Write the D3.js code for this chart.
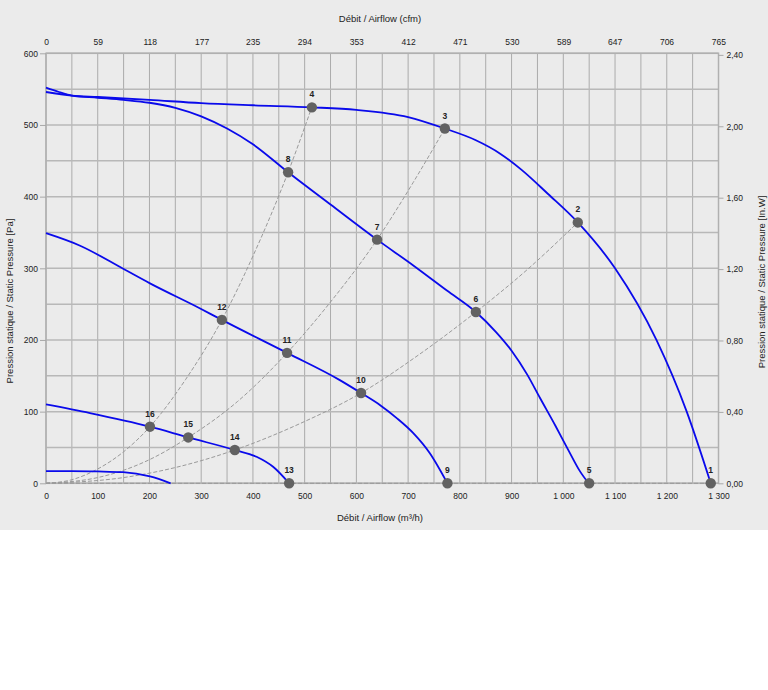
<!DOCTYPE html>
<html>
<head>
<meta charset="utf-8">
<script src="https://cdn.jsdelivr.net/npm/d3@7"></script>
<style>
	body { margin: 0; background: #fff; }
	text { font-family: "Liberation Sans", Arial, sans-serif; fill: #222; }
</style>
</head>
<body>
<script>
// axis ticks
let flowTicks = [0, 100, 200, 300, 400, 500, 600, 700, 800, 900, 1000, 1100, 1200, 1300];
let cfmTicks = [0, 59, 118, 177, 235, 294, 353, 412, 471, 530, 589, 647, 706, 765];
let paTicks = [0, 100, 200, 300, 400, 500, 600];
let inwgTicks = [0, 0.4, 0.8, 1.2, 1.6, 2.0, 2.4];

// fan curves [m3/h, Pa]
let fanCurve1 = [[0, 546], [50, 541], [100, 539], [200, 535], [300, 530.5], [400, 527.5], [514, 524.6], [600, 521], [700, 511], [771, 495], [830, 479], [878, 460], [920, 437], [970, 404], [1028, 364], [1100, 300], [1180, 200], [1238, 101], [1285, 0]];
let fanCurve2 = [[0, 552], [25, 546], [50, 541], [100, 538], [150, 535], [200, 531], [250, 524], [300, 512], [350, 495], [400, 473], [468, 434], [550, 389], [640, 340], [710, 304], [775, 269], [831, 239], [870, 211], [900, 185], [930, 152], [955, 119], [985, 80], [1010, 46], [1032, 17], [1049, 0]];
let fanCurve3 = [[0, 349], [66, 331.5], [150, 299], [201, 279], [298, 244], [340, 228], [466, 182], [568, 144], [609, 126], [646, 109], [678, 91], [710, 70], [742, 42], [776, 0]];
let fanCurve4 = [[0, 110], [85, 98], [201, 79], [275, 64], [365, 46.5], [407, 37], [439, 23], [470, 0]];
let fanCurve5 = [[0, 17], [50, 17], [100, 16.5], [149, 15.5], [201, 9.5], [241, 0]];

// system curves (dashed)
let sysCurve1 = [[0, 0], [50, 5], [100, 20], [150, 44], [201, 79], [270, 145], [340, 228], [400, 317], [468, 434], [514, 525]];
let sysCurve2 = [[0, 0], [100, 8], [200, 33], [275, 64], [370, 114], [466, 182], [550, 253], [640, 340], [710, 420], [771, 495]];
let sysCurve3 = [[0, 0], [150, 8], [250, 22], [365, 46.5], [490, 83], [609, 126], [720, 179], [831, 239], [930, 298], [1028, 364]];
let sysCurve4 = [[0, 0], [470, 0], [776, 0], [1050, 0], [1285, 0]];

// operating points
let pointIds = [1, 2, 3, 4, 5, 6, 7, 8, 9, 10, 11, 12, 13, 14, 15, 16];
let pointFlow = [1285, 1028, 771, 514, 1050, 831, 640, 468, 776, 609, 466, 340, 470, 365, 275, 201];
let pointPa = [0, 364, 495, 524.6, 0, 239, 340, 434, 0, 126, 182, 228, 0, 46.5, 64, 79];

let width = 768;
let height = 690;
let plot = { left: 46, right: 718.5, top: 53.3, bottom: 483.3 };

let locale = d3.formatLocale({ decimal: ",", thousands: " ", grouping: [3], currency: ["", ""] });

let svg = d3.select("body").append("svg")
	.attr("width", width)
	.attr("height", height);

svg.append("rect")
	.attr("width", width)
	.attr("height", 530)
	.attr("fill", "#ebebeb");

let x = d3.scaleLinear().domain([0, 1300]).range([plot.left, plot.right]);
let y = d3.scaleLinear().domain([0, 600]).range([plot.bottom, plot.top]);
let xCfm = d3.scaleLinear().domain([0, 1300 * 0.588578]).range([plot.left, plot.right]);
let yIn = d3.scaleLinear().domain([0, 600 / 249.089]).range([plot.bottom, plot.top]);

// grid
let grid = svg.append("g");
grid.selectAll(".vgrid")
	.data(d3.range(0, 1301, 50))
	.enter().append("line")
	.attr("x1", d => x(d)).attr("x2", d => x(d))
	.attr("y1", plot.top).attr("y2", plot.bottom)
	.attr("stroke", "#ababab")
	.attr("stroke-width", 1);
grid.selectAll(".hgrid")
	.data(d3.range(0, 601, 50))
	.enter().append("line")
	.attr("x1", plot.left).attr("x2", plot.right)
	.attr("y1", d => y(d)).attr("y2", d => y(d))
	.attr("stroke", "#b8b8b8")
	.attr("stroke-width", 1.5);

svg.append("rect")
	.attr("x", plot.left).attr("y", plot.top)
	.attr("width", plot.right - plot.left)
	.attr("height", plot.bottom - plot.top)
	.attr("fill", "none")
	.attr("stroke", "#b0b0b0")
	.attr("stroke-width", 1.5);

// axes
function styleAxis(g){
	g.select(".domain").remove();
	g.selectAll(".tick line").attr("stroke", "#a8a8a8");
	g.selectAll(".tick text").attr("fill", "#222").style("font-size", "8.5px")
		.style("font-family", "'Liberation Sans', Arial, sans-serif");
}

svg.append("g")
	.attr("transform", `translate(0,${plot.bottom})`)
	.call(d3.axisBottom(x).tickValues(flowTicks).tickSize(0).tickPadding(10).tickFormat(locale.format(",.0f")))
	.call(styleAxis);

svg.append("g")
	.attr("transform", `translate(0,${plot.top})`)
	.call(d3.axisTop(xCfm).tickValues(cfmTicks).tickSize(0).tickPadding(8).tickFormat(d3.format("d")))
	.call(styleAxis);

svg.append("g")
	.attr("transform", `translate(${plot.left},0)`)
	.call(d3.axisLeft(y).tickValues(paTicks).tickSize(6).tickPadding(2).tickFormat(d3.format("d")))
	.call(styleAxis);

svg.append("g")
	.attr("transform", `translate(${plot.right},0)`)
	.call(d3.axisRight(yIn).tickValues(inwgTicks).tickSize(5).tickPadding(3).tickFormat(locale.format(".2f")))
	.call(styleAxis);

// axis titles
svg.append("text")
	.text("Débit / Airflow (cfm)")
	.attr("x", 380).attr("y", 22)
	.attr("text-anchor", "middle")
	.style("font-size", "9.5px");

svg.append("text")
	.text("Débit / Airflow (m³/h)")
	.attr("x", 380).attr("y", 521)
	.attr("text-anchor", "middle")
	.style("font-size", "9.5px");

svg.append("text")
	.text("Pression statique / Static Pressure [Pa]")
	.attr("transform", "translate(13,301) rotate(-90)")
	.attr("text-anchor", "middle")
	.style("font-size", "9.5px");

svg.append("text")
	.text("Pression statique / Static Pressure [In.W]")
	.attr("transform", "translate(765,282) rotate(-90)")
	.attr("text-anchor", "middle")
	.style("font-size", "9.5px");

// curves
let line = d3.line()
	.x(d => x(d[0]))
	.y(d => y(d[1]))
	.curve(d3.curveMonotoneX);

svg.selectAll(".sys")
	.data([sysCurve1, sysCurve2, sysCurve3, sysCurve4])
	.enter().append("path")
	.attr("class", "sys")
	.attr("d", line)
	.attr("fill", "none")
	.attr("stroke", "#9a9a9a")
	.attr("stroke-width", 1)
	.attr("stroke-dasharray", "4,2");

svg.selectAll(".fan")
	.data([fanCurve1, fanCurve2, fanCurve3, fanCurve4, fanCurve5])
	.enter().append("path")
	.attr("class", "fan")
	.attr("d", line)
	.attr("fill", "none")
	.attr("stroke", "#0a0aeb")
	.attr("stroke-width", 1.8);

// points
let points = pointIds.map((id, i) => ({ id: id, q: pointFlow[i], p: pointPa[i] }));

svg.selectAll(".pt")
	.data(points)
	.enter().append("circle")
	.attr("class", "pt")
	.attr("cx", d => x(d.q))
	.attr("cy", d => y(d.p))
	.attr("r", 5.2)
	.attr("fill", "#626262");

svg.selectAll(".ptlabel")
	.data(points)
	.enter().append("text")
	.attr("class", "ptlabel")
	.text(d => d.id)
	.attr("x", d => x(d.q))
	.attr("y", d => y(d.p) - 10)
	.attr("text-anchor", "middle")
	.style("font-size", "8.5px")
	.style("font-weight", "bold");
</script>
</body>
</html>
